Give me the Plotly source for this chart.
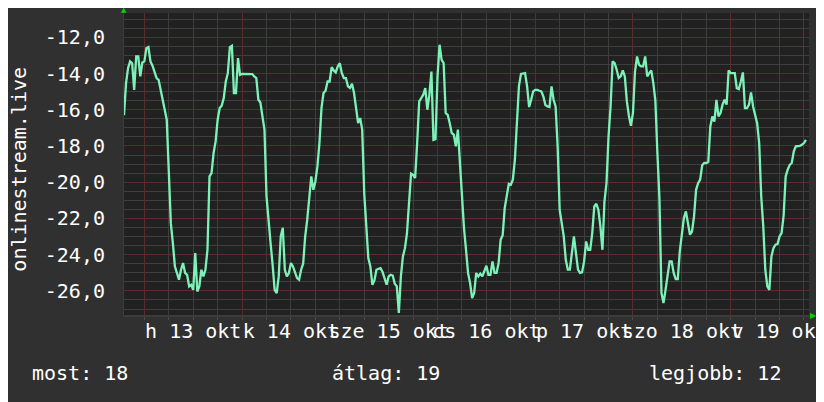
import plotly.graph_objects as go
import pandas as pd

# ---- data (30-minute samples) ----
series_name = "onlinestream.live"
start_time = "2025-10-12 19:00"
sample_step = "30min"
values = [
    -16.30, -14.53, -13.70, -13.33, -13.43, -14.90, -13.06, -13.06, -14.16, -13.39,
    -13.33, -12.60, -12.54, -13.33, -13.57, -13.89, -14.25, -14.35, -14.90, -15.41,
    -15.85, -16.55, -19.40, -22.26, -23.36, -24.65, -25.01, -25.38, -24.83, -24.46,
    -25.01, -25.11, -25.75, -25.66, -25.94, -23.91, -26.03, -25.75, -24.83, -25.20,
    -24.83, -23.73, -19.68, -19.50, -18.39, -17.75, -16.55, -15.91, -15.78, -15.36,
    -14.44, -13.98, -12.54, -12.47, -15.08, -15.08, -13.15, -14.07, -14.02, -14.02,
    -14.02, -14.02, -14.02, -14.03, -14.16, -14.25, -15.45, -15.60, -16.37, -17.10,
    -20.78, -22.26, -23.36, -24.56, -25.94, -26.12, -25.20, -22.99, -22.52, -24.83,
    -25.20, -25.01, -24.46, -24.65, -25.01, -25.29, -25.38, -24.83, -24.50, -22.99,
    -22.07, -20.78, -19.68, -20.42, -19.96, -19.13, -17.84, -15.91, -15.08, -14.95,
    -14.44, -14.44, -13.65, -13.83, -13.94, -13.61, -13.43, -13.98, -14.25, -14.25,
    -14.71, -14.80, -14.56, -15.08, -16.00, -16.74, -16.46, -17.10, -20.60, -22.72,
    -24.19, -24.65, -25.66, -25.42, -24.83, -24.78, -24.74, -24.96, -25.29, -25.66,
    -25.20, -25.11, -25.15, -25.61, -25.75, -27.22, -25.20, -24.10, -23.64, -22.81,
    -21.15, -19.53, -19.59, -19.77, -17.84, -15.54, -15.36, -15.17, -14.80, -16.00,
    -15.17, -13.89, -17.66, -17.62, -14.16, -12.41, -13.24, -13.43, -16.18, -16.28,
    -16.74, -17.29, -17.38, -18.02, -17.10, -19.13, -21.15, -22.53, -23.73, -25.01,
    -25.57, -26.39, -26.12, -25.01, -25.20, -25.05, -25.20, -24.92, -24.61, -25.11,
    -25.11, -24.37, -25.01, -25.01, -24.46, -23.18, -22.92, -21.43, -20.78, -20.09,
    -20.14, -19.86, -18.76, -16.59, -14.68, -14.02, -13.98, -13.98, -14.71, -15.85,
    -15.45, -14.99, -14.90, -14.90, -14.95, -14.99, -15.27, -15.74, -15.82, -15.85,
    -14.71, -15.45, -15.82, -18.02, -21.52, -22.26, -22.99, -24.28, -24.83, -24.83,
    -23.91, -22.99, -23.91, -24.83, -25.01, -24.98, -24.37, -23.27, -23.73, -23.73,
    -22.81, -21.34, -21.19, -21.52, -22.44, -23.73, -21.06, -20.05, -17.47, -15.82,
    -13.33, -13.43, -13.79, -14.25, -14.16, -13.83, -14.16, -15.54, -16.33, -16.89,
    -16.18, -13.89, -13.06, -13.52, -13.61, -13.61, -13.06, -14.16, -13.98, -13.83,
    -14.53, -15.50, -18.39, -20.88, -26.12, -26.67, -25.94, -25.11, -24.37, -24.37,
    -25.01, -25.35, -25.35, -23.82, -23.03, -21.98, -21.61, -22.17, -22.90, -22.72,
    -21.89, -20.42, -20.05, -19.86, -19.07, -18.94, -18.94, -18.89, -16.92, -16.37,
    -16.65, -15.45, -16.37, -16.18, -15.72, -15.45, -15.72, -13.83, -13.98, -13.98,
    -13.98, -14.81, -14.86, -14.44, -13.94, -15.91, -15.91, -15.72, -15.04, -15.82,
    -16.37, -16.74, -17.84, -20.78, -22.44, -24.83, -25.75, -25.94, -24.10, -23.64,
    -23.45, -23.42, -22.99, -22.81, -21.84, -19.68, -19.31, -19.04, -18.94, -18.30,
    -18.02, -18.02, -17.99, -17.93, -17.84, -17.66,
]

x_range = ["2025-10-12 19:00", "2025-10-19 19:14"]
y_range = [-27.33, -10.66]

day_starts = ["2025-10-13", "2025-10-14", "2025-10-15", "2025-10-16",
              "2025-10-17", "2025-10-18", "2025-10-19"]
day_labels = ["h 13 okt", "k 14 okt", "sze 15 okt", "cs 16 okt",
              "p 17 okt", "szo 18 okt", "v 19 okt"]

y_tick_vals = [-12, -14, -16, -18, -20, -22, -24, -26]
y_tick_text = ["-12,0", "-14,0", "-16,0", "-18,0", "-20,0", "-22,0", "-24,0", "-26,0"]

stat_labels = ["most: 18", "átlag: 19", "legjobb: 12"]

# ---- styling ----
FONT = "DejaVu Sans Mono"
PAPER = "#303030"
CANVAS = "#212121"
MINOR_GRID = "#3e3e3e"
MAJOR_GRID = "#5a2d2d"
LINE = "#7cf2b8"
ARROW = "#00d000"
WHITE = "#ffffff"

times = pd.date_range(start_time, periods=len(values), freq=sample_step)
midnights = pd.to_datetime(day_starts)
noons = midnights + pd.Timedelta(hours=12)

# minor grid positions (6-hourly, skipping the midnights that carry the major grid)
x_minor = [m + pd.Timedelta(hours=h) for m in midnights for h in (6, 12, 18)]
y_minor = [v / 2 for v in range(-55, -20) if v % 4 != 0]

fig = go.Figure()
fig.add_trace(go.Scatter(
    x=times, y=values, mode="lines", line=dict(color=LINE, width=2.3),
    showlegend=False, hoverinfo="skip", name=series_name,
))
# empty trace so the label axis is realised
fig.add_trace(go.Scatter(x=[], y=[], xaxis="x2", showlegend=False, hoverinfo="skip"))

# the page adds an 8px body margin, so the figure is laid out 8px short of the window
fig.update_layout(
    template="none",
    width=816, height=394, autosize=False,
    paper_bgcolor=PAPER, plot_bgcolor=CANVAS,
    margin=dict(l=116, r=15, t=5, b=87, pad=0),
    font=dict(family=FONT, size=20, color=WHITE),
    xaxis=dict(
        type="date", range=x_range, automargin=False,
        tickmode="array", tickvals=midnights, showticklabels=False,
        ticks="outside", ticklen=3, tickcolor="#4a4a4a",
        showgrid=True, gridcolor=MAJOR_GRID, gridwidth=1,
        minor=dict(tickmode="array", tickvals=x_minor, showgrid=True,
                   gridcolor=MINOR_GRID, gridwidth=1,
                   ticks="outside", ticklen=3, tickcolor="#4a4a4a"),
        showline=True, linecolor="#3c3c3c", linewidth=2,
        zeroline=False, fixedrange=True,
    ),
    xaxis2=dict(
        type="date", range=x_range, overlaying="x", anchor="y", side="bottom",
        automargin=False, ticklabeloverflow="allow", ticklabelstandoff=2,
        tickmode="array", tickvals=noons, ticktext=day_labels, tickangle=0,
        ticks="", showgrid=False, zeroline=False, showline=False,
        tickfont=dict(family=FONT, size=20, color=WHITE),
    ),
    yaxis=dict(
        range=y_range, automargin=False,
        tickmode="array", tickvals=y_tick_vals, ticktext=y_tick_text,
        ticks="", ticklabelstandoff=14,
        tickfont=dict(family=FONT, size=20, color=WHITE),
        showgrid=True, gridcolor=MAJOR_GRID, gridwidth=1,
        minor=dict(tickmode="array", tickvals=y_minor, showgrid=True,
                   gridcolor=MINOR_GRID, gridwidth=1),
        showline=True, linecolor="#3c3c3c", linewidth=1,
        zeroline=False, fixedrange=True,
    ),
)

annotations = [
    dict(text=series_name, textangle=-90, xref="paper", yref="paper",
         x=(19.5 - 124) / 685, y=0.483, xanchor="center", yanchor="middle",
         showarrow=False, font=dict(family=FONT, size=20, color=WHITE)),
    dict(text=stat_labels[0], xref="paper", yref="paper", x=(30 - 124) / 685,
         y=-0.192, xanchor="left", yanchor="middle", showarrow=False),
    dict(text=stat_labels[1], xref="paper", yref="paper", x=(330 - 124) / 685,
         y=-0.192, xanchor="left", yanchor="middle", showarrow=False),
    dict(text=stat_labels[2], xref="paper", yref="paper", x=(647 - 124) / 685,
         y=-0.192, xanchor="left", yanchor="middle", showarrow=False),
    dict(text="▲", xref="paper", yref="paper", x=0, y=1, xanchor="center",
         yanchor="bottom", showarrow=False, borderpad=0, yshift=-2,
         font=dict(family="DejaVu Sans", size=7, color=ARROW)),
    dict(text="▶", xref="paper", yref="paper", x=1, y=0, xanchor="left",
         yanchor="middle", showarrow=False, borderpad=0,
         font=dict(family="DejaVu Sans", size=8, color=ARROW)),
]
fig.update_layout(annotations=annotations)

fig.write_html("out.html")
